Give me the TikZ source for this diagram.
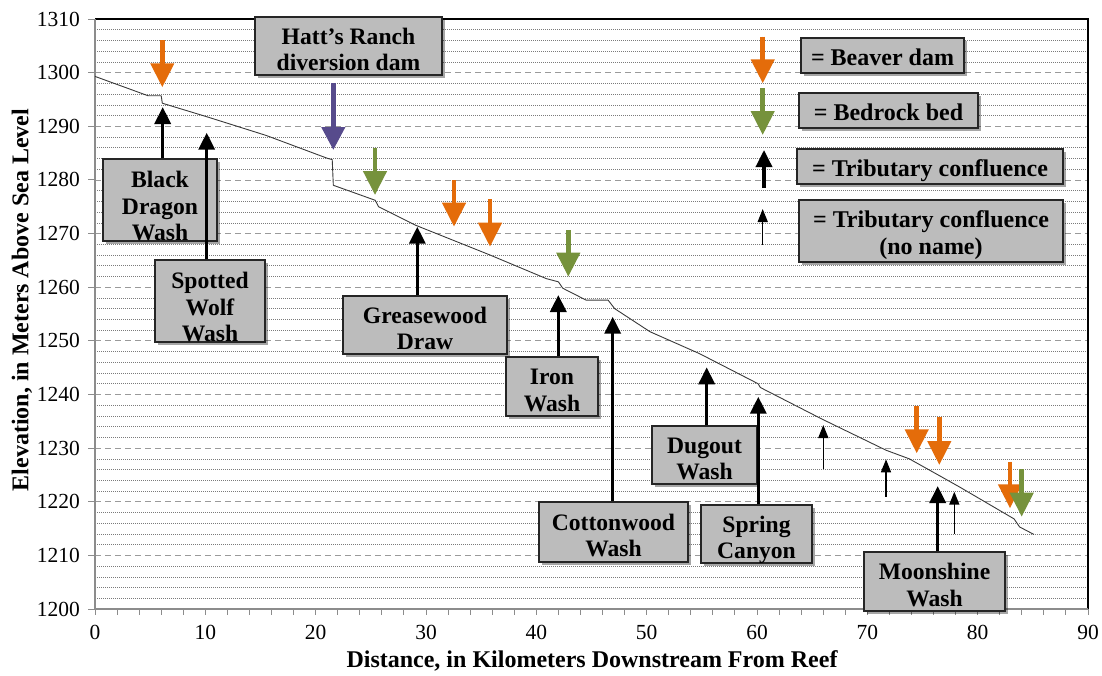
\documentclass[tikz,border=0pt]{standalone}
\usepackage{fontspec}
\setmainfont{Liberation Serif}
\usetikzlibrary{arrows.meta,shadows}
\definecolor{beaver}{HTML}{E46C0A}
\definecolor{bedrock}{HTML}{76923C}
\definecolor{dampurple}{HTML}{574B8C}
\definecolor{boxgray}{HTML}{BCBCBC}
\definecolor{gridmaj}{HTML}{9A9A9A}
\definecolor{gridmin}{HTML}{7A7A7A}
\definecolor{axisgray}{HTML}{8C8C8C}
\definecolor{profilecol}{HTML}{3A3A3A}
\newcommand{\btext}[2]{\raisebox{-#1}[\height][\depth]{\begin{tabular}{@{}c@{}}#2\end{tabular}}}
\tikzset{
  labelbox/.style={draw=black!85, line width=1.4pt, fill=boxgray, inner sep=0pt,
    font=\fontsize{23.6}{26.5}\selectfont\bfseries,
    drop shadow={shadow xshift=3pt, shadow yshift=-3pt, opacity=0.35, fill=black}},
  legendbox/.style={labelbox, font=\fontsize{24}{27}\selectfont\bfseries},
  beaverarrow/.style={draw=beaver, fill=beaver, line width=4.5pt, -{Triangle[width=23pt,length=24pt]}},
  bedrockarrow/.style={draw=bedrock, fill=bedrock, line width=4.5pt, -{Triangle[width=23pt,length=24pt]}},
  damarrow/.style={draw=dampurple, fill=dampurple, line width=4.5pt, -{Triangle[width=23pt,length=23pt]}},
  tribarrow/.style={draw=black, line width=3.5pt, -{Triangle[width=16pt,length=17pt]}},
  smalltrib/.style={draw=black, line width=1.5pt, -{Triangle[width=10pt,length=13pt]}},
  minorgrid/.style={draw=gridmin, line width=0.6pt, dash pattern=on 1pt off 1pt},
  majorgrid/.style={draw=gridmaj, line width=0.8pt, dash pattern=on 6pt off 4pt},
  axisline/.style={draw=axisgray, line width=1.3pt},
  frameline/.style={draw=black, line width=1.3pt},
  profile/.style={draw=profilecol, line width=0.9pt, line join=round},
  ticklabel/.style={font=\fontsize{21.5}{25}\selectfont, inner sep=0pt},
  axistitle/.style={font=\fontsize{24}{28}\selectfont\bfseries, inner sep=0pt}
}
\begin{document}
\begin{tikzpicture}[x=1pt,y=-1pt]
\useasboundingbox (0,0) rectangle (1102,675);
\fill[white] (0,0) rectangle (1102,675);

% ---------- data area ----------
\begin{scope}[shift={(95,609)}, x=11.0333pt, y=5.3636pt]
  \foreach \d in {0,10,...,100}
    \foreach \e in {2,4,6,8}
      \draw[minorgrid] (0,{\d+\e}) -- (90,{\d+\e});
  \foreach \d in {10,20,...,100}
    \draw[majorgrid] (0,\d) -- (90,\d);
  \draw[frameline] (0,110) -- (90,110) -- (90,0);
  \draw[axisline] (0,0) -- (90,0);
  \draw[axisline] (0,0) -- (0,110);
  \foreach \k in {0,2,...,90}
    \draw[axisgray, line width=1pt] (\k,0) -- ++(0,-6pt);
  \foreach \d in {0,10,...,110}
    \draw[axisgray, line width=1pt] (0,\d) -- ++(-7pt,0);
  \draw[profile] (0,99.3) -- (4.8,95.7) -- (6.0,95.7) -- (6.1,94.3) -- (10.1,91.8)
    -- (15.5,88.3) -- (21.1,84.0) -- (21.5,83.8) -- (21.6,79.0) -- (25.4,76.2)
    -- (25.7,75.0) -- (29,71.6) -- (35.8,66.0) -- (40.9,61.6) -- (42.0,61.0)
    -- (42.4,59.8) -- (44.5,57.6) -- (46.5,57.6) -- (47.1,56.0) -- (50.3,51.7)
    -- (54.8,47.6) -- (60.1,42.0) -- (60.3,41.3) -- (65.8,35.5) -- (71.7,29.6)
    -- (73.8,28.0) -- (76.5,24.9) -- (78.4,22.7) -- (83.3,16.8) -- (83.8,15.3)
    -- (85.1,13.9);
\end{scope}

% ---------- tick labels ----------
\foreach \i in {0,...,11}
  \node (yl\i) [ticklabel, anchor=east] at (80,{609-\i*53.636}) {\the\numexpr1200+\i*10\relax};
\foreach \i in {0,...,9}
  \node (xl\i) [ticklabel] at ({95+\i*110.333},632) {\the\numexpr\i*10\relax};

% ---------- axis titles ----------
\node (ytitle) [axistitle, rotate=90] at (22,300) {Elevation, in Meters Above Sea Level};
\node (xtitle) [axistitle] at (592,661) {Distance, in Kilometers Downstream From Reef};

% ---------- label boxes ----------
\node (bdw) [labelbox, minimum width=114pt, minimum height=82pt] at (160,200) {\btext{9pt}{Black\\Dragon\\Wash}};
\node (swf) [labelbox, minimum width=110pt, minimum height=82pt] at (210,301) {\btext{9pt}{Spotted\\Wolf\\Wash}};
\node (hrd) [labelbox, minimum width=187pt, minimum height=58pt] at (348.5,46) {\btext{6.4pt}{Hatt’s Ranch\\diversion dam}};
\node (gwd) [labelbox, minimum width=164pt, minimum height=58pt] at (425,325) {\btext{6.4pt}{Greasewood\\Draw}};
\node (irw) [labelbox, minimum width=92pt, minimum height=59pt] at (552,386.5) {\btext{6.4pt}{Iron\\Wash}};
\node (cww) [labelbox, minimum width=149pt, minimum height=60pt] at (613.5,532) {\btext{6.4pt}{Cottonwood\\Wash}};
\node (dgw) [labelbox, minimum width=105pt, minimum height=58pt] at (704.5,455) {\btext{6.4pt}{Dugout\\Wash}};
\node (spc) [labelbox, minimum width=111pt, minimum height=58pt] at (756.5,534) {\btext{6.4pt}{Spring\\Canyon}};
\node (msw) [labelbox, minimum width=141pt, minimum height=59pt] at (934.5,581.5) {\btext{6.4pt}{Moonshine\\Wash}};

% ---------- legend boxes ----------
\node (lg1) [legendbox, minimum width=163pt, minimum height=35pt] at (882.5,55.5) {\btext{4.6pt}{= Beaver dam}};
\node (lg2) [legendbox, minimum width=179pt, minimum height=35pt] at (888.5,110.5) {\btext{4.6pt}{= Bedrock bed}};
\node (lg3) [legendbox, minimum width=266pt, minimum height=35pt] at (930,166.5) {\btext{4.6pt}{= Tributary confluence}};
\node (lg4) [legendbox, minimum width=264pt, minimum height=62pt] at (931,231) {\btext{5pt}{= Tributary confluence\\(no name)}};

% ---------- beaver dams ----------
\coordinate (b1t) at (162.3,40);   \coordinate (b1h) at (162.3,87.3);
\coordinate (b2t) at (454,180);    \coordinate (b2h) at (454,226.7);
\coordinate (b3t) at (490,199.3);  \coordinate (b3h) at (490,246.7);
\coordinate (b4t) at (916.7,406);  \coordinate (b4h) at (916.7,453.3);
\coordinate (b5t) at (939.3,417.3);\coordinate (b5h) at (939.3,465);
\coordinate (b6t) at (1010,461.7); \coordinate (b6h) at (1010,508.3);
\coordinate (blt) at (762.7,36.7); \coordinate (blh) at (762.7,83.3);
\foreach \n in {b1,b2,b3,b4,b5,b6,bl}
  \draw[beaverarrow] (\n t) -- (\n h);

% ---------- bedrock ----------
\coordinate (g1t) at (375,148.3);   \coordinate (g1h) at (375,195);
\coordinate (g2t) at (568.3,230);   \coordinate (g2h) at (568.3,276.7);
\coordinate (g3t) at (1021.7,469.3);\coordinate (g3h) at (1021.7,516.7);
\coordinate (glt) at (762.7,88);    \coordinate (glh) at (762.7,135);
\foreach \n in {g1,g2,g3,gl}
  \draw[bedrockarrow] (\n t) -- (\n h);

% ---------- diversion dam ----------
\coordinate (dmt) at (333.3,83.3); \coordinate (dmh) at (333.3,150);
\draw[damarrow] (dmt) -- (dmh);

% ---------- named tributaries ----------
\coordinate (bdwtip) at (162.7,107);
\coordinate (swftip) at (206.7,132.7);
\coordinate (gwdtip) at (417.3,226.7);
\coordinate (irwtip) at (558.3,295);
\coordinate (cwwtip) at (612.7,316.7);
\coordinate (dgwtip) at (706.7,367.3);
\coordinate (spctip) at (758.3,396.7);
\coordinate (mswtip) at (937.7,486);
\foreach \n in {bdw,swf,gwd,irw,cww,dgw,spc,msw}
  \draw[tribarrow] (\n.north -| \n tip) -- (\n tip);
\coordinate (tlt) at (764,188); \coordinate (tlh) at (764,150);
\draw[tribarrow] (tlt) -- (tlh);

% ---------- unnamed tributaries ----------
\coordinate (s1t) at (823.3,469.3); \coordinate (s1h) at (823.3,425);
\coordinate (s2t) at (886,496.7);   \coordinate (s2h) at (886,459.3);
\coordinate (s3t) at (954.3,534);   \coordinate (s3h) at (954.3,491.7);
\coordinate (slt) at (762.7,245);   \coordinate (slh) at (762.7,209);
\foreach \n in {s1,s2,s3,sl}
  \draw[smalltrib] (\n t) -- (\n h);
\end{tikzpicture}
\end{document}
